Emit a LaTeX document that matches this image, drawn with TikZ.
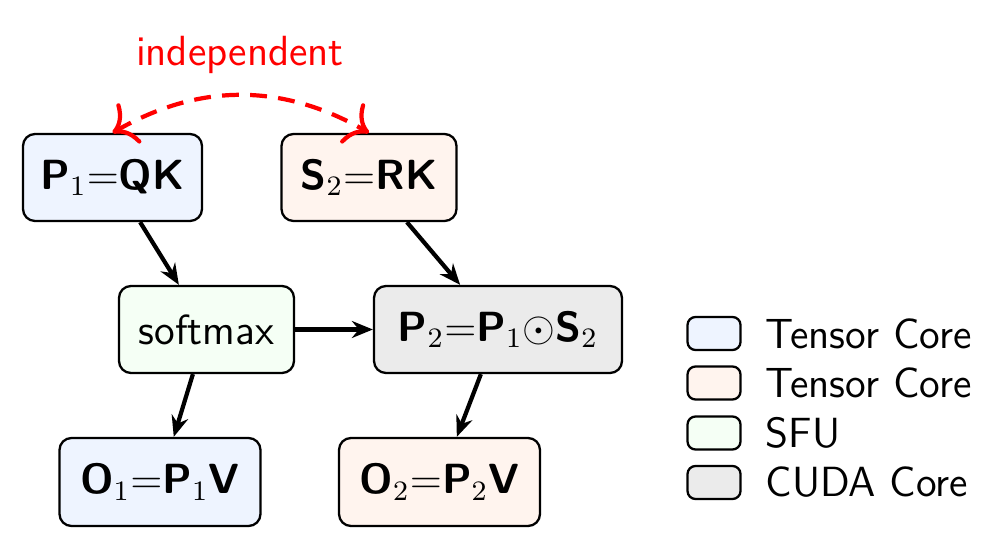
\documentclass[tikz,border=0pt]{standalone}
\usetikzlibrary{arrows.meta}
\definecolor{tcA}{RGB}{238,244,255}
\definecolor{tcB}{RGB}{255,244,238}
\definecolor{sfu}{RGB}{245,255,245}
\definecolor{cuda}{RGB}{235,235,235}
\begin{document}
\begin{tikzpicture}[x=0.1mm,y=-0.1mm,
  font=\sffamily\fontsize{12}{14.4}\selectfont,
  opbox/.style={draw=black, line width=0.65pt, rounded corners=1.2mm, minimum height=8.7mm, inner sep=0pt, align=center},
  legbox/.style={draw=black, line width=0.65pt, rounded corners=0.8mm, minimum width=5.3mm, minimum height=3.3mm, inner sep=0pt},
  legtext/.style={anchor=west, inner sep=0pt},
  flow/.style={line width=1.2pt, -{Stealth[length=2.1mm, width=1.7mm, inset=0.7mm]}},
  indep/.style={red, line width=1.2pt, dash pattern=on 4.8pt off 3.2pt, {To[length=2.1mm, width=4.6mm]}-{To[length=2.1mm, width=4.6mm]}}
]
\useasboundingbox (0,0) rectangle (996,549);
\node[opbox, fill=tcA, minimum width=17.9mm] (p1) at (112.5,177.5) {\textbf{P}$_1{=}$\textbf{QK}};
\node[opbox, fill=tcB, minimum width=17.5mm] (s2) at (369,177.5) {\textbf{S}$_2{=}$\textbf{RK}};
\node[opbox, fill=sfu, minimum width=17.5mm] (sm) at (206.5,329.5) {softmax};
\node[opbox, fill=cuda, minimum width=24.8mm] (p2) at (498,329.5) {\textbf{P}$_2{=}$\textbf{P}$_1\odot$\textbf{S}$_2$};
\node[opbox, fill=tcA, minimum width=20.1mm, minimum height=8.8mm] (o1) at (160,482) {\textbf{O}$_1{=}$\textbf{P}$_1$\textbf{V}};
\node[opbox, fill=tcB, minimum width=20.1mm, minimum height=8.8mm] (o2) at (439.5,482) {\textbf{O}$_2{=}$\textbf{P}$_2$\textbf{V}};

\draw[flow] (p1) -- (sm);
\draw[flow] (s2) -- (p2);
\draw[flow] (sm) -- (p2);
\draw[flow] (sm) -- (o1);
\draw[flow] (p2) -- (o2);

\draw[indep] (p1.north) to[bend left=30] (s2.north);
\node[red] (indtext) at (240,55) {independent};

\node[legbox, fill=tcA] (l1) at (714,333.5) {};
\node[legbox, fill=tcB] (l2) at (714,383) {};
\node[legbox, fill=sfu] (l3) at (714,433) {};
\node[legbox, fill=cuda] (l4) at (714,482.5) {};
\node[legtext] (t1) at (765,333.5) {Tensor Core};
\node[legtext] (t2) at (765,383) {Tensor Core};
\node[legtext] (t3) at (765,433) {SFU};
\node[legtext] (t4) at (765,482.5) {CUDA Core};
\end{tikzpicture}
\end{document}
